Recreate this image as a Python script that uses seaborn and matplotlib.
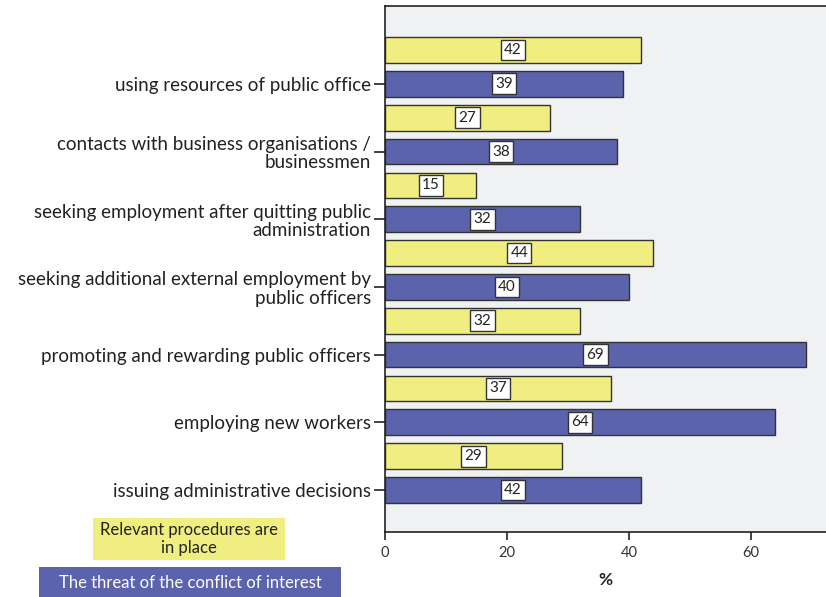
import matplotlib
matplotlib.use("Agg")
import matplotlib.pyplot as plt
from matplotlib.patches import Rectangle
import numpy as np
import pandas as pd
import seaborn as sns

# Activities examined (one per pair of bars, top to bottom)
categories = [
    "using resources of public office",
    "contacts with business organisations /\nbusinessmen",
    "seeking employment after quitting public\nadministration",
    "seeking additional external employment by\npublic officers",
    "promoting and rewarding public officers",
    "employing new workers",
    "issuing administrative decisions",
]
procedures = [42, 27, 15, 44, 32, 37, 29]   # relevant procedures are in place (%)
threat = [39, 38, 32, 40, 69, 64, 42]       # threat of the conflict of interest (%)
series_names = ["Relevant procedures are\nin place", "The threat of the conflict of interest"]
x_ticks = [0, 20, 40, 60]

YELLOW = "#f0ee80"
BLUE = "#5b63ad"
BG = "#f0f1f3"

rows = []
for i in range(len(categories)):
    rows.append({"pos": 2 * i, "value": procedures[i], "series": series_names[0]})
    rows.append({"pos": 2 * i + 1, "value": threat[i], "series": series_names[1]})
df = pd.DataFrame(rows)

sns.set_style("white")
plt.rcParams["font.family"] = ["Lato", "DejaVu Sans"]

fig = plt.figure(figsize=(8.26, 5.97), dpi=100)
ax = fig.add_axes([385 / 826, 1 - 532 / 597, 1 - 385 / 826, (532 - 6) / 597])
ax.set_facecolor(BG)

sns.barplot(data=df, x="value", y="pos", hue="series", orient="h",
            native_scale=True, dodge=False, width=0.76, saturation=1,
            palette=[YELLOW, BLUE], edgecolor="#333333", linewidth=1.0,
            legend=False, ax=ax)

# value boxes in the middle of each bar
for _, r in df.iterrows():
    ax.text(r["value"] / 2, r["pos"], f"{r['value']:d}", ha="center", va="center",
            fontsize=11, color="#222222",
            bbox=dict(boxstyle="square,pad=0.22", fc="white", ec="#333333", lw=1.0))

ax.set_xlim(0, 72.3)
ax.set_ylim(14.24, -1.30)
ax.set_xticks(x_ticks)
ax.set_xticklabels([str(t) for t in x_ticks], fontsize=10.5, color="#333333")
ax.set_yticks([2 * i + 1 for i in range(len(categories))])
ax.set_yticklabels(categories, fontsize=13.5, color="#222222", multialignment="right")
for t in ax.get_yticklabels():
    t.set_linespacing(1.1)
ax.tick_params(axis="y", direction="out", length=8, width=1.2, color="#222222", pad=2, left=True)
ax.tick_params(axis="x", direction="out", length=6, width=1.2, color="#222222", pad=4, bottom=True)
ax.set_xlabel("%", fontsize=12.5, fontweight="bold", labelpad=9, color="#222222")
ax.set_ylabel("")
for side in ["left", "bottom", "top"]:
    ax.spines[side].set_visible(True)
    ax.spines[side].set_color("#222222")
    ax.spines[side].set_linewidth(1.2)
ax.spines["right"].set_visible(False)

# legend boxes at the lower left
W, H = 826, 597
fig.patches.append(Rectangle((93 / W, 1 - 560 / H), (285 - 93) / W, (560 - 518) / H,
                             transform=fig.transFigure, fc=YELLOW, ec="none"))
fig.text((93 + 285) / 2 / W, 1 - 539 / H, series_names[0], ha="center", va="center",
         fontsize=12, color="#222222", multialignment="center", linespacing=1.2)
fig.patches.append(Rectangle((39 / W, 0), (341 - 39) / W, (597 - 567) / H,
                             transform=fig.transFigure, fc=BLUE, ec="none"))
fig.text((39 + 341) / 2 / W, 1 - 583 / H, series_names[1], ha="center", va="center",
         fontsize=12, color="white")

fig.savefig("out.png", dpi=100)
